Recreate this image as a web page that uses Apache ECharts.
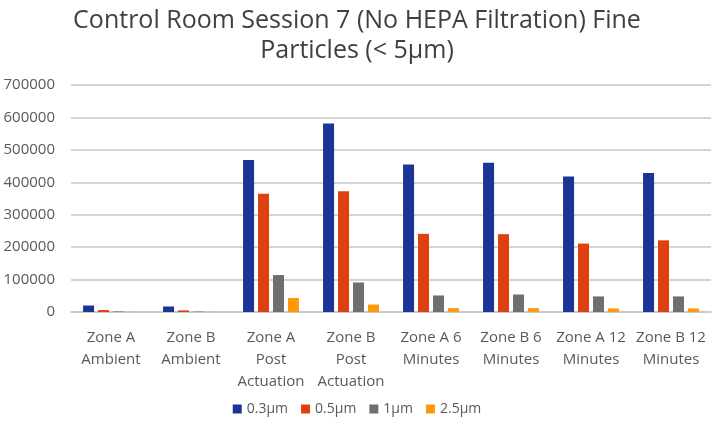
<!DOCTYPE html>
<html>
<head>
<meta charset="utf-8">
<script src="https://cdn.jsdelivr.net/npm/echarts@6/dist/echarts.min.js"></script>
<style>
  html, body { margin: 0; padding: 0; background: #fff; }
  #chart { width: 714px; height: 427px; }
</style>
</head>
<body>
<div id="chart"></div>
<script>
var categories = [
  "Zone A\nAmbient", "Zone B\nAmbient", "Zone A\nPost\nActuation", "Zone B\nPost\nActuation",
  "Zone A 6\nMinutes", "Zone B 6\nMinutes", "Zone A 12\nMinutes", "Zone B 12\nMinutes"
];
var seriesNames = ["0.3µm", "0.5µm", "1µm", "2.5µm"];
var d03 = [20000, 17000, 469000, 581000, 455000, 460000, 418000, 429000];
var d05 = [6000, 5000, 365000, 372000, 241000, 240000, 211000, 221000];
var d1 = [1500, 1200, 114000, 91000, 51000, 54000, 48000, 48000];
var d25 = [300, 300, 43000, 23000, 12000, 12000, 11000, 11000];
var colors = ["#1a3596", "#df4010", "#6f6f6f", "#fd9a0c"];

var chart = echarts.init(document.getElementById("chart"));
var font = "'Open Sans', 'Noto Sans', sans-serif";

var allData = [d03, d05, d1, d25];
var series = allData.map(function (d, i) {
  return {
    name: seriesNames[i],
    type: "bar",
    data: d,
    barWidth: 11,
    barGap: "36%",
    itemStyle: { color: colors[i] }
  };
});

chart.setOption({
  animation: false,
  textStyle: { fontFamily: font },
  title: {
    text: "Control Room Session 7 (No HEPA Filtration) Fine\nParticles (< 5µm)",
    left: "center",
    top: 1,
    textStyle: {
      fontFamily: font,
      fontSize: 25,
      fontWeight: "normal",
      color: "#404040",
      lineHeight: 30
    }
  },
  legend: {
    bottom: 6,
    left: "center",
    itemWidth: 9,
    itemHeight: 9,
    itemGap: 13,
    icon: "rect",
    textStyle: { fontSize: 14, color: "#595959", fontFamily: font },
    data: seriesNames
  },
  grid: {
    left: 71,
    right: 3,
    top: 85,
    bottom: 115
  },
  xAxis: {
    type: "category",
    data: categories,
    axisTick: { show: false },
    axisLine: { lineStyle: { color: "#c6c6c6", width: 1.5 } },
    axisLabel: {
      interval: 0,
      color: "#595959",
      fontSize: 15,
      lineHeight: 22,
      margin: 15,
      fontFamily: font
    }
  },
  yAxis: {
    type: "value",
    min: 0,
    max: 700000,
    interval: 100000,
    axisLine: { show: false },
    axisTick: { show: false },
    axisLabel: {
      color: "#595959",
      fontSize: 15,
      margin: 16,
      fontFamily: font,
      formatter: function (v) { return String(v); }
    },
    splitLine: { lineStyle: { color: "#c6c6c6", width: 1.5 } }
  },
  series: series
});
</script>
</body>
</html>
